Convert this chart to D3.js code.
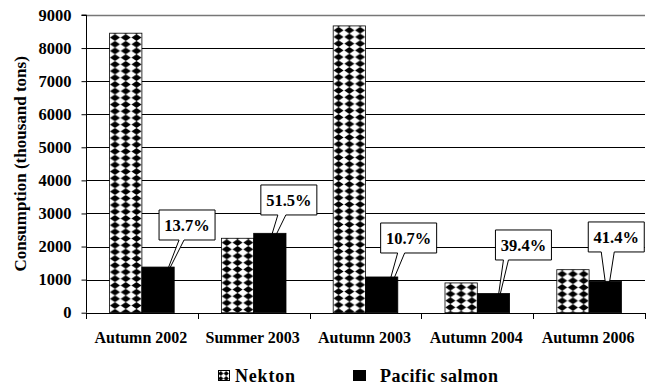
<!DOCTYPE html>
<html>
<head>
<meta charset="utf-8">
<script src="https://cdn.jsdelivr.net/npm/d3@7"></script>
<style>
  html, body { margin: 0; padding: 0; background: #fff; }
  svg { display: block; }
</style>
</head>
<body>
<svg id="chart" width="651" height="388"></svg>
<script>
// Consumption by nekton and by Pacific salmon, thousand tons
const categories = ["Autumn 2002", "Summer 2003", "Autumn 2003", "Autumn 2004", "Autumn 2006"];
const nekton = [8450, 2250, 8670, 900, 1300];
const salmon = [1380, 2400, 1080, 580, 950];
const salmonShare = ["13.7%", "51.5%", "10.7%", "39.4%", "41.4%"];
const yTicks = [0, 1000, 2000, 3000, 4000, 5000, 6000, 7000, 8000, 9000];
const seriesNames = ["Nekton", "Pacific salmon"];

// Callout placement: box centre offset from the salmon bar centre (px),
// box top (in data units), pointer base offsets from box centre (px),
// pointer tip offset from bar centre (px) and tip height (data units)
const calloutLayout = [
  { boxDx: 29, boxTop: 3105, baseL: -8,  baseR: -3,  tipDx: 5,  tipVal: 940 },
  { boxDx: 19, boxTop: 3862, baseL: -11, baseR: -3,  tipDx: -5, tipVal: 1660 },
  { boxDx: 27, boxTop: 2712, baseL: -11, baseR: -4,  tipDx: 2,  tipVal: 285 },
  { boxDx: 30, boxTop: 2501, baseL: -20, baseR: -15, tipDx: 3,  tipVal: 85 },
  { boxDx: 11, boxTop: 2743, baseL: -15, baseR: -2,  tipDx: 2,  tipVal: 485 }
];

// Bold serif text helper
function serif(sel, size) {
  return sel.style("font-family", "Liberation Serif")
    .style("font-weight", "bold")
    .style("font-size", size + "px");
}

const svg = d3.select("#chart");
const plotLeft = 86, plotRight = 645, plotTop = 15, plotBottom = 312.7;

const x = d3.scaleBand().domain(categories).range([plotLeft, plotRight]).paddingInner(0).paddingOuter(0);
const y = d3.scaleLinear().domain([0, 9000]).range([plotBottom, plotTop]);
const barW = 32.3;

// Diamond fill for the nekton bars, one pattern per bar so the grid starts at its left edge
const defs = svg.append("defs");
function diamondPattern(id, x0, y0, w, h) {
  const p = defs.append("pattern")
    .attr("id", id)
    .attr("patternUnits", "userSpaceOnUse")
    .attr("x", x0).attr("y", y0)
    .attr("width", w).attr("height", h);
  p.append("rect").attr("width", w).attr("height", h).attr("fill", "#fff");
  p.append("path")
    .attr("d", `M${w / 2},0 L${w * 0.97},${h / 2} L${w / 2},${h} L${w * 0.03},${h / 2} Z`)
    .attr("fill", "#000");
}
categories.forEach((c, i) => {
  diamondPattern("nek" + i, x(c) + x.bandwidth() / 2 - barW, y(nekton[i]) + 1, barW / 3, 6.7);
});
diamondPattern("nekLegend", 218, 371, 5.5, 5);

// Horizontal gridlines
svg.append("g")
  .selectAll("line")
  .data(yTicks.filter(d => d > 0))
  .join("line")
  .attr("x1", plotLeft).attr("x2", plotRight)
  .attr("y1", d => Math.round(y(d)) + 0.5).attr("y2", d => Math.round(y(d)) + 0.5)
  .attr("stroke", d => d === 9000 ? "#777" : "#000")
  .attr("stroke-width", d => d === 9000 ? 1.5 : 1);

// Callouts sit under the bars so their pointers disappear into the salmon bars
const callouts = svg.append("g");
categories.forEach((c, i) => {
  const L = calloutLayout[i];
  const bc = x(c) + x.bandwidth() / 2 + barW / 2;
  const cx = bc + L.boxDx;
  const bw = 56, bh = 30;
  const bx = cx - bw / 2, by = y(L.boxTop);
  const tipX = bc + L.tipDx, tipY = y(L.tipVal);
  const path = [
    [bx, by], [bx + bw, by], [bx + bw, by + bh],
    [cx + L.baseR, by + bh], [tipX, tipY], [cx + L.baseL, by + bh],
    [bx, by + bh]
  ];
  callouts.append("path")
    .attr("d", "M" + path.map(p => p.join(",")).join("L") + "Z")
    .attr("fill", "#fff").attr("stroke", "#000").attr("stroke-width", 1);
  serif(callouts.append("text"), 16.5)
    .attr("x", cx)
    .attr("y", by + bh / 2 + 6)
    .attr("text-anchor", "middle")
    .text(salmonShare[i]);
});

// Bars
const bars = svg.append("g");
bars.selectAll("rect.nekton")
  .data(categories)
  .join("rect")
  .attr("class", "nekton")
  .attr("x", c => x(c) + x.bandwidth() / 2 - barW)
  .attr("y", (c, i) => y(nekton[i]))
  .attr("width", barW)
  .attr("height", (c, i) => y(0) - y(nekton[i]))
  .attr("fill", (c, i) => `url(#nek${i})`)
  .attr("stroke", "#000").attr("stroke-width", 0.8);
bars.selectAll("rect.salmon")
  .data(categories)
  .join("rect")
  .attr("class", "salmon")
  .attr("x", c => x(c) + x.bandwidth() / 2)
  .attr("y", (c, i) => y(salmon[i]))
  .attr("width", barW)
  .attr("height", (c, i) => y(0) - y(salmon[i]))
  .attr("fill", "#000").attr("stroke", "#000").attr("stroke-width", 0.8);

// Value axis
const yAxis = d3.axisLeft(y).tickValues(yTicks).tickSize(5).tickPadding(10).tickFormat(d3.format("d"));
const gy = svg.append("g").attr("transform", `translate(${plotLeft + 0.5},0)`).call(yAxis);
gy.attr("font-family", null).attr("font-size", null);
gy.select(".domain").attr("stroke", "#000").attr("d", `M-5,${y(9000)}H0V${y(0)}`);
serif(gy.selectAll("text"), 16.5).attr("fill", "#000");
gy.selectAll(".tick line").attr("stroke", "#000");

// Category axis: baseline, boundary ticks and labels
const gx = svg.append("g");
gx.append("line")
  .attr("x1", plotLeft).attr("x2", plotRight)
  .attr("y1", Math.round(y(0)) + 0.5).attr("y2", Math.round(y(0)) + 0.5)
  .attr("stroke", "#000");
gx.selectAll("line.tick")
  .data(categories.map(c => x(c)).concat([plotRight]))
  .join("line")
  .attr("class", "tick")
  .attr("x1", d => Math.round(d) + 0.5).attr("x2", d => Math.round(d) + 0.5)
  .attr("y1", Math.round(y(0))).attr("y2", Math.round(y(0)) + 6)
  .attr("stroke", "#000");
serif(gx.selectAll("text")
  .data(categories)
  .join("text"), 16)
  .attr("x", c => x(c) + x.bandwidth() / 2 - 1)
  .attr("y", 343)
  .attr("text-anchor", "middle")
  .text(c => c);

// Axis title
serif(svg.append("text"), 17)
  .attr("transform", `translate(26,${(plotTop + plotBottom) / 2}) rotate(-90)`)
  .attr("text-anchor", "middle")
  .text("Consumption (thousand tons)");

// Legend
const lg = svg.append("g");
lg.append("rect").attr("x", 218.5).attr("y", 370.5).attr("width", 11).attr("height", 10)
  .attr("fill", "url(#nekLegend)").attr("stroke", "#000");
serif(lg.append("text"), 18).attr("x", 235).attr("y", 381.5)
  .style("letter-spacing", "0.8px").text(seriesNames[0]);
lg.append("rect").attr("x", 353).attr("y", 370).attr("width", 13).attr("height", 11)
  .attr("fill", "#000");
serif(lg.append("text"), 18).attr("x", 380).attr("y", 381.5)
  .style("letter-spacing", "0.5px").text(seriesNames[1]);
</script>
</body>
</html>
